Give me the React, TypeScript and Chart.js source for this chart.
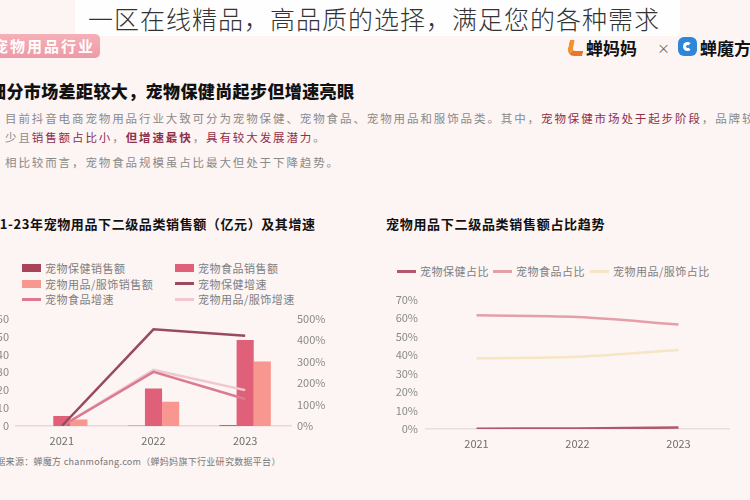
import React, { useEffect, useRef } from 'react';
import { Chart, registerables } from 'chart.js';
Chart.register(...registerables);

const FONT = '"Noto Sans CJK SC", "Noto Sans", sans-serif';

// ---- data: left chart ----
const years = ['2021', '2022', '2023'];
const leftSeriesLabels = ['宠物保健销售额', '宠物食品销售额', '宠物用品/服饰销售额', '宠物保健增速', '宠物食品增速', '宠物用品/服饰增速'];
const healthSales = [0.05, 0.1, 0.4];
const foodSales = [5.6, 21, 48];
const suppliesSales = [3.6, 13.5, 36];
const healthGrowth = [0, 450, 420];
const foodGrowth = [0, 252, 126];
const suppliesGrowth = [0, 261, 167];
const leftColors = ['#A8435A', '#E0607A', '#F7978F', '#9A4A5E', '#DC7A90', '#F0C8CF'];
const leftKinds = ['bar', 'bar', 'bar', 'line', 'line', 'line'];

// ---- data: right chart ----
const rightSeriesLabels = ['宠物保健占比', '宠物食品占比', '宠物用品/服饰占比'];
const healthShare = [0.2, 0.3, 0.8];
const foodShare = [61.5, 60.6, 56.5];
const suppliesShare = [38.3, 39.1, 42.7];
const rightColors = ['#B0596C', '#E4A0A8', '#F6E6C2'];

const TICK_COLOR = '#8a8a8a';

function LeftChart() {
  const ref = useRef<HTMLCanvasElement>(null);
  useEffect(() => {
    const values = [healthSales, foodSales, suppliesSales, healthGrowth, foodGrowth, suppliesGrowth];
    const datasets: any[] = values.map((d, i) =>
      leftKinds[i] === 'bar'
        ? {
            type: 'bar', label: leftSeriesLabels[i], data: d, backgroundColor: leftColors[i],
            yAxisID: 'y', order: 2, barPercentage: 1, categoryPercentage: 0.56,
          }
        : {
            type: 'line', label: leftSeriesLabels[i], data: d, borderColor: leftColors[i],
            backgroundColor: leftColors[i], borderWidth: 2.5, pointRadius: 0, tension: 0,
            yAxisID: 'y1', order: 1,
          }
    );
    const chart = new Chart(ref.current!, {
      type: 'bar',
      data: { labels: years, datasets },
      options: {
        animation: false, responsive: false,
        layout: { padding: { top: 10, left: 0, right: 0, bottom: 0 } },
        plugins: { legend: { display: false }, tooltip: { enabled: false } },
        scales: {
          x: {
            offset: true,
            grid: { display: false, drawTicks: false },
            border: { display: true, color: '#F1D3D8', width: 1.5 },
            ticks: { color: '#6e6e6e', font: { family: FONT, size: 11 }, padding: 8 },
            afterFit: (s: any) => { s.height = 29; },
          },
          y: {
            position: 'left', min: 0, max: 60,
            grid: { display: false, drawTicks: false },
            border: { display: false },
            ticks: { stepSize: 10, color: TICK_COLOR, font: { family: FONT, size: 11 }, padding: 7 },
            afterFit: (s: any) => { s.width = 41; },
          },
          y1: {
            position: 'right', min: 0, max: 500,
            grid: { display: false, drawTicks: false },
            border: { display: false },
            ticks: { stepSize: 100, color: TICK_COLOR, font: { family: FONT, size: 11 }, padding: 6, callback: (v: any) => v + '%' },
            afterFit: (s: any) => { s.width = 44; },
          },
        },
      },
    });
    return () => chart.destroy();
  }, []);
  return <canvas ref={ref} width={360} height={150} style={{ position: 'absolute', left: -25, top: 305, width: 360, height: 150 }} />;
}

function RightChart() {
  const ref = useRef<HTMLCanvasElement>(null);
  useEffect(() => {
    const values = [healthShare, foodShare, suppliesShare];
    const chart = new Chart(ref.current!, {
      type: 'line',
      data: {
        labels: years,
        datasets: values.map((d, i) => ({
          label: rightSeriesLabels[i], data: d, borderColor: rightColors[i], backgroundColor: rightColors[i],
          borderWidth: 2.5, pointRadius: 0, tension: 0.35,
        })),
      },
      options: {
        animation: false, responsive: false,
        layout: { padding: { top: 10, left: 0, right: 21, bottom: 0 } },
        plugins: { legend: { display: false }, tooltip: { enabled: false } },
        scales: {
          x: {
            offset: true,
            grid: { display: false, drawTicks: false },
            border: { display: true, color: '#E9DEDE', width: 1.5 },
            ticks: { color: '#6e6e6e', font: { family: FONT, size: 11 }, padding: 8 },
            afterFit: (s: any) => { s.height = 29; },
          },
          y: {
            min: 0, max: 70,
            grid: { display: false, drawTicks: false },
            border: { display: false },
            ticks: { stepSize: 10, color: TICK_COLOR, font: { family: FONT, size: 11 }, padding: 8, callback: (v: any) => v + '%' },
            afterFit: (s: any) => { s.width = 46; },
          },
        },
      },
    });
    return () => chart.destroy();
  }, []);
  return <canvas ref={ref} width={370} height={173} style={{ position: 'absolute', left: 380, top: 285, width: 370, height: 173 }} />;
}

const abs = (left: number, top: number, extra: any = {}): any => ({ position: 'absolute', left, top, whiteSpace: 'nowrap', ...extra });

function Swatch({ kind, color }: { kind: string; color: string }) {
  return kind === 'bar'
    ? <span style={{ display: 'inline-block', width: 19, height: 8, background: color, verticalAlign: 'middle' }} />
    : <span style={{ display: 'inline-block', width: 19, height: 3, background: color, verticalAlign: 'middle' }} />;
}

export default function App() {
  const legendText = { fontFamily: FONT, fontSize: 11, color: '#808080', lineHeight: '14px' };
  const leftLegendPos = [[22, 261], [175, 261], [22, 276.5], [175, 276.5], [22, 292], [175, 292]];
  const rightLegendPos = [397, 493, 590];
  const maroon = '#8E2F4C';
  return (
    <div style={{ position: 'fixed', left: 0, top: 0, width: 750, height: 500, overflow: 'hidden', background: '#FDF4F4', fontFamily: FONT }}>
      {/* watermark banner */}
      <div style={abs(75, 0, { width: 605, height: 36, background: '#FEFEFE' })} />
      <div style={abs(88, 3, { fontSize: 25, fontWeight: 300, color: '#333', letterSpacing: 1, lineHeight: '30px' })}>一区在线精品，高品质的选择，满足您的各种需求</div>

      {/* tag */}
      <div style={abs(-12, 34, { width: 112, height: 24, borderRadius: 5, background: 'linear-gradient(#F5B0B8, #EE9AA6)' })} />
      <div style={abs(-7, 36, { fontSize: 15, fontWeight: 700, color: '#fff', letterSpacing: 2, lineHeight: '20px' })}>宠物用品行业</div>

      {/* logos */}
      <div style={abs(568, 40, { width: 16, height: 16, borderLeft: '5px solid #F0922E', borderBottom: '5px solid #E9762A', borderRadius: '0 0 0 8px', boxSizing: 'border-box', transform: 'skewX(-12deg)' })} />
      <div style={abs(586, 36, { fontSize: 17, fontWeight: 700, color: '#111', lineHeight: '24px' })}>蝉妈妈</div>
      <div style={abs(657, 38, { fontSize: 13, color: '#666', lineHeight: '20px' })}>×</div>
      <div style={abs(678, 37, { width: 19, height: 19, borderRadius: 6, background: '#2F86D8', boxSizing: 'border-box' })} />
      <div style={abs(683, 42, { width: 9, height: 9, borderRadius: '50%', border: '3px solid #fff', borderRightColor: '#2F86D8', boxSizing: 'border-box' })} />
      <div style={abs(700, 36, { fontSize: 17, fontWeight: 700, color: '#111', lineHeight: '24px' })}>蝉魔方</div>

      {/* heading */}
      <div style={abs(-11, 78, { fontSize: 17, fontWeight: 900, color: '#111', letterSpacing: 0.4, lineHeight: '26px' })}>细分市场差距较大，宠物保健尚起步但增速亮眼</div>

      {/* paragraph */}
      <div style={abs(5, 110, { fontSize: 11.5, color: '#8a8a8a', letterSpacing: 1.9, lineHeight: '16px' })}>
        目前抖音电商宠物用品行业大致可分为宠物保健、宠物食品、宠物用品和服饰品类。其中，<span style={{ color: maroon }}>宠物保健市场处于起步阶段</span>，品牌较
      </div>
      <div style={abs(5, 129, { fontSize: 11.5, color: '#8a8a8a', letterSpacing: 1.9, lineHeight: '16px' })}>
        少且<span style={{ color: maroon }}>销售额占比小</span>，<span style={{ color: maroon, fontWeight: 700 }}>但增速最快</span>，<span style={{ color: maroon }}>具有较大发展潜力</span>。
      </div>
      <div style={abs(5, 154, { fontSize: 11.5, color: '#8a8a8a', letterSpacing: 1.9, lineHeight: '16px' })}>
        相比较而言，宠物食品规模虽占比最大但处于下降趋势。
      </div>

      {/* chart titles */}
      <div style={abs(-25, 215, { fontSize: 13, fontWeight: 700, color: '#111', letterSpacing: 0.6, lineHeight: '18px' })}>2021-23年宠物用品下二级品类销售额（亿元）及其增速</div>
      <div style={abs(386, 215, { fontSize: 13, fontWeight: 700, color: '#111', letterSpacing: 0.7, lineHeight: '18px' })}>宠物用品下二级品类销售额占比趋势</div>

      {/* left legend */}
      {leftSeriesLabels.map((lab, i) => (
        <div key={lab} style={abs(leftLegendPos[i][0], leftLegendPos[i][1], { ...legendText, display: 'flex', alignItems: 'center' })}>
          <Swatch kind={leftKinds[i]} color={leftColors[i]} />
          <span style={{ marginLeft: 4, letterSpacing: 0.5 }}>{lab}</span>
        </div>
      ))}

      {/* right legend */}
      {rightSeriesLabels.map((lab, i) => (
        <div key={lab} style={abs(rightLegendPos[i], 264, { ...legendText, display: 'flex', alignItems: 'center' })}>
          <Swatch kind="line" color={rightColors[i]} />
          <span style={{ marginLeft: 4, letterSpacing: 0.5 }}>{lab}</span>
        </div>
      ))}

      <LeftChart />
      <RightChart />

      {/* source */}
      <div style={abs(-13, 455, { fontSize: 9, color: '#777', letterSpacing: 0.3, lineHeight: '14px' })}>数据来源：蝉魔方 chanmofang.com（蝉妈妈旗下行业研究数据平台）</div>
    </div>
  );
}
